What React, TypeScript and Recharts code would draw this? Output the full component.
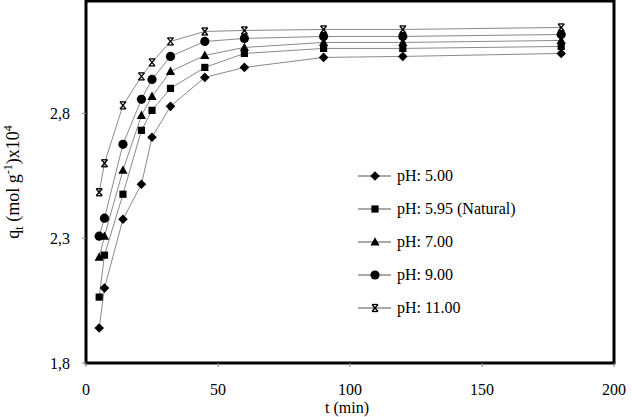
import React from 'react';
import { LineChart, Line, XAxis, YAxis, ReferenceArea, Legend } from 'recharts';

const times = [5, 7, 14, 21, 25, 32, 45, 60, 90, 120, 180];
const ph500 = [1.94, 2.10, 2.376, 2.516, 2.704, 2.828, 2.944, 2.984, 3.024, 3.028, 3.04];
const ph595 = [2.064, 2.232, 2.476, 2.732, 2.812, 2.90, 2.984, 3.04, 3.06, 3.06, 3.068];
const ph700 = [2.224, 2.308, 2.572, 2.792, 2.868, 2.968, 3.032, 3.064, 3.084, 3.084, 3.092];
const ph900 = [2.308, 2.38, 2.676, 2.856, 2.936, 3.028, 3.088, 3.10, 3.108, 3.108, 3.116];
const ph1100 = [2.484, 2.60, 2.832, 2.948, 3.004, 3.088, 3.128, 3.132, 3.136, 3.136, 3.144];

const xTicks = [0, 50, 100, 150, 200];
const yTicks = [1.8, 2.3, 2.8];

const seriesDefs = [
  { key: 'ph500', name: 'pH: 5.00', values: ph500, marker: 'diamond' },
  { key: 'ph595', name: 'pH: 5.95 (Natural)', values: ph595, marker: 'square' },
  { key: 'ph700', name: 'pH: 7.00', values: ph700, marker: 'triangle' },
  { key: 'ph900', name: 'pH: 9.00', values: ph900, marker: 'circle' },
  { key: 'ph1100', name: 'pH: 11.00', values: ph1100, marker: 'star' },
];

const data = times.map((t, i) => {
  const row: any = { t };
  seriesDefs.forEach((s) => {
    row[s.key] = s.values[i];
  });
  return row;
});

const FONT = '"Liberation Serif", "Times New Roman", serif';
const LINE_COLOR = '#8a8a8a';

function Marker({ type, cx, cy }: { type: string; cx: number; cy: number }) {
  if (cx == null || cy == null) return null;
  switch (type) {
    case 'diamond':
      return <polygon points={`${cx},${cy - 4.8} ${cx + 4.8},${cy} ${cx},${cy + 4.8} ${cx - 4.8},${cy}`} fill="#000" />;
    case 'square':
      return <rect x={cx - 3.6} y={cy - 3.6} width={7.2} height={7.2} fill="#000" />;
    case 'triangle':
      return <polygon points={`${cx},${cy - 4.8} ${cx + 4.6},${cy + 3.6} ${cx - 4.6},${cy + 3.6}`} fill="#000" />;
    case 'circle':
      return <circle cx={cx} cy={cy} r={4.6} fill="#000" />;
    case 'star':
      return (
        <g stroke="#000" strokeWidth={1.3} fill="none">
          <line x1={cx - 3} y1={cy - 3.5} x2={cx + 3} y2={cy + 3.5} />
          <line x1={cx + 3} y1={cy - 3.5} x2={cx - 3} y2={cy + 3.5} />
          <line x1={cx - 3} y1={cy - 3.5} x2={cx + 3} y2={cy - 3.5} />
          <line x1={cx - 3} y1={cy + 3.5} x2={cx + 3} y2={cy + 3.5} />
        </g>
      );
    default:
      return null;
  }
}

const makeDot = (type: string) => (props: any) => (
  <Marker key={`${type}-${props.index}`} type={type} cx={props.cx} cy={props.cy} />
);

const LegendContent = () => (
  <div style={{ fontFamily: FONT, fontSize: 16, color: '#000' }}>
    {seriesDefs.map((s) => (
      <div key={s.key} style={{ display: 'flex', alignItems: 'center', height: 32.8 }}>
        <svg width={36} height={14} style={{ display: 'block' }}>
          <line x1={0} y1={7} x2={33} y2={7} stroke="#555" strokeWidth={1} />
          <Marker type={s.marker} cx={17} cy={7} />
        </svg>
        <span style={{ marginLeft: 3, whiteSpace: 'nowrap' }}>{s.name}</span>
      </div>
    ))}
  </div>
);

const YLabel = (props: any) => {
  const vb = props.viewBox || {};
  const x = vb.x + 19;
  const y = vb.y + vb.height / 2;
  return (
    <text
      x={x}
      y={y}
      transform={`rotate(-90, ${x}, ${y})`}
      textAnchor="middle"
      fontFamily={FONT}
      fontSize={18}
      fill="#000"
    >
      q<tspan fontSize={12} dy={4}>t</tspan>
      <tspan dy={-4}> (mol g</tspan>
      <tspan fontSize={12} dy={-7}>-1</tspan>
      <tspan dy={7}>)x10</tspan>
      <tspan fontSize={12} dy={-7}>4</tspan>
    </text>
  );
};

const XLabel = (props: any) => {
  const vb = props.viewBox || {};
  return (
    <text
      x={vb.x + vb.width / 2 - 3}
      y={vb.y + 50}
      textAnchor="middle"
      fontFamily={FONT}
      fontSize={16}
      fill="#000"
    >
      t (min)
    </text>
  );
};

export default function App() {
  return (
    <div style={{ position: 'absolute', left: 0, top: 0, width: 632, height: 417, background: '#fff', fontFamily: FONT }}>
      <LineChart
        width={632}
        height={417}
        data={data}
        margin={{ top: 1, right: 18, bottom: 0, left: 0 }}
        style={{ fontFamily: FONT }}
      >
        <ReferenceArea
          x1={0}
          x2={200}
          y1={1.8}
          y2={3.25}
          fill="none"
          stroke="#000"
          strokeWidth={3}
          ifOverflow="visible"
        />
        <XAxis
          dataKey="t"
          type="number"
          domain={[0, 200]}
          ticks={xTicks}
          axisLine={false}
          tickSize={4}
          tickMargin={17}
          tickLine={{ stroke: '#888' }}
          height={54}
          tick={{ fontFamily: FONT, fontSize: 16, fill: '#000' }}
          label={<XLabel />}
        />
        <YAxis
          type="number"
          domain={[1.8, 3.25]}
          ticks={yTicks}
          axisLine={false}
          width={86}
          tickSize={4}
          tickMargin={12}
          tickLine={{ stroke: '#888' }}
          tickFormatter={(v: number) => v.toFixed(1).replace('.', ',')}
          tick={{ fontFamily: FONT, fontSize: 16, fill: '#000' }}
          label={<YLabel />}
        />
        <Legend
          layout="vertical"
          align="center"
          verticalAlign="middle"
          content={<LegendContent />}
          wrapperStyle={{ position: 'absolute', left: 358, top: 160, width: 200 }}
        />
        {seriesDefs.map((s) => (
          <Line
            key={s.key}
            dataKey={s.key}
            name={s.name}
            type="linear"
            stroke={LINE_COLOR}
            strokeWidth={1}
            dot={makeDot(s.marker)}
            activeDot={false}
            isAnimationActive={false}
          />
        ))}
      </LineChart>
    </div>
  );
}
